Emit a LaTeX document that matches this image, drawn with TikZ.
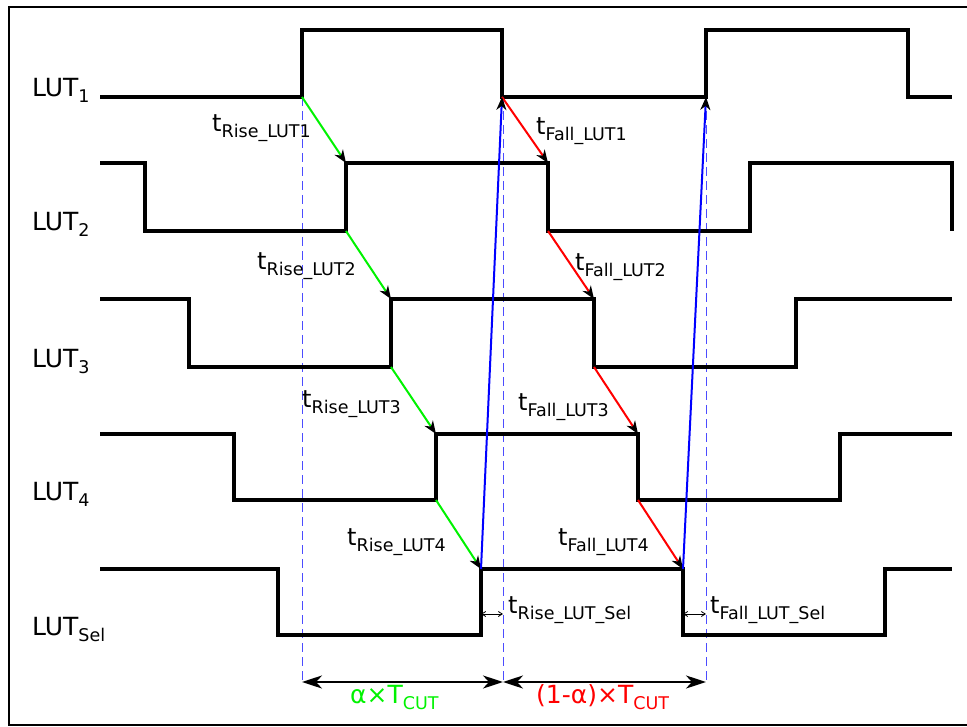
\documentclass[tikz,border=0pt]{standalone}
\usepackage{fontspec}
\setmainfont{DejaVu Sans}
\usetikzlibrary{arrows.meta}
\definecolor{dashblue}{rgb}{0.3,0.3,1}
\definecolor{mygreen}{rgb}{0,0.95,0}
\newcommand{\mysub}[1]{\raisebox{-6pt}{\fontsize{17.5}{18}\selectfont #1}}
\begin{document}
\begin{tikzpicture}[x=1pt,y=-1pt,
  wave/.style={line width=4pt, line join=miter},
  delay/.style={line width=2pt, -{Stealth[length=13pt,width=10pt,inset=4pt,color=black]}},
  guide/.style={line width=1pt, dash pattern=on 9pt off 5pt, color=dashblue},
  dim/.style={line width=2.5pt, {Stealth[length=20pt,width=13pt,inset=6pt]}-{Stealth[length=20pt,width=13pt,inset=6pt]}},
  smalldim/.style={line width=0.8pt, {Straight Barb[length=4pt,width=5pt]}-{Straight Barb[length=4pt,width=5pt]}},
  lutlbl/.style={anchor=base west, inner sep=0pt, font=\fontsize{25}{28}\selectfont},
  tlbl/.style={anchor=base west, inner sep=0pt, font=\fontsize{24}{28}\selectfont}]
\useasboundingbox (0,0) rectangle (967,727);
\draw[line width=2pt] (9,7) rectangle (972,725);

% transition coordinates
\coordinate (a1L) at (302,97);  \coordinate (a1H) at (302,30);
\coordinate (b1H) at (502,30);  \coordinate (b1L) at (502,97);
\coordinate (c1L) at (706,97);  \coordinate (c1H) at (706,30);
\coordinate (d1H) at (908,30);  \coordinate (d1L) at (908,97);

\coordinate (a2L) at (346,231); \coordinate (a2H) at (346,163);
\coordinate (b2H) at (548,163); \coordinate (b2L) at (548,231);

\coordinate (a3L) at (391,367); \coordinate (a3H) at (391,299);
\coordinate (b3H) at (594,299); \coordinate (b3L) at (594,367);

\coordinate (a4L) at (436,500); \coordinate (a4H) at (436,434);
\coordinate (b4H) at (638,434); \coordinate (b4L) at (638,500);

\coordinate (a5L) at (481,635); \coordinate (a5H) at (481,569);
\coordinate (b5H) at (683,569); \coordinate (b5L) at (683,635);

\coordinate (g1) at (302,682); \coordinate (g2) at (503,682); \coordinate (g3) at (706,682);
\coordinate (g2t) at (503,97);

% guides
\draw[guide] (a1L) -- (g1);
\draw[guide] (g2t) -- (g2);
\draw[guide] (c1L) -- (g3);

% waveforms
\draw[wave] (100,97) -- (a1L) -- (a1H) -- (b1H) -- (b1L) -- (c1L) -- (c1H) -- (d1H) -- (d1L) -- (952,97);
\draw[wave] (100,163) -- (145,163) -- (145,231) -- (a2L) -- (a2H) -- (b2H) -- (b2L) -- (750,231) -- (750,163) -- (952,163) -- (952,231);
\draw[wave] (100,299) -- (189,299) -- (189,367) -- (a3L) -- (a3H) -- (b3H) -- (b3L) -- (796,367) -- (796,299) -- (952,299);
\draw[wave] (100,434) -- (234,434) -- (234,500) -- (a4L) -- (a4H) -- (b4H) -- (b4L) -- (840,500) -- (840,434) -- (952,434);
\draw[wave] (100,569) -- (278,569) -- (278,635) -- (a5L) -- (a5H) -- (b5H) -- (b5L) -- (885,635) -- (885,569) -- (952,569);

% delay arrows
\draw[delay, mygreen] (a1L) -- (a2H);
\draw[delay, mygreen] (a2L) -- (a3H);
\draw[delay, mygreen] (a3L) -- (a4H);
\draw[delay, mygreen] (a4L) -- (a5H);
\draw[delay, red] (b1L) -- (b2H);
\draw[delay, red] (b2L) -- (b3H);
\draw[delay, red] (b3L) -- (b4H);
\draw[delay, red] (b4L) -- (b5H);
\draw[delay, blue] (a5H) -- (b1L);
\draw[delay, blue] (b5H) -- (c1L);

% small sel delays
\coordinate (s1a) at (481,614); \coordinate (s1b) at (503,614);
\coordinate (s2a) at (683,614); \coordinate (s2b) at (706,614);
\draw[smalldim] (s1a) -- (s1b);
\draw[smalldim] (s2a) -- (s2b);

% period arrows
\draw[dim] (g1) -- (g2);
\draw[dim] (g2) -- (g3);

% labels
\node[lutlbl] (n1) at (32,97)  {LUT\mysub{1}};
\node[lutlbl] (n2) at (32,231) {LUT\mysub{2}};
\node[lutlbl] (n3) at (32,367) {LUT\mysub{3}};
\node[lutlbl] (n4) at (32,500) {LUT\mysub{4}};
\node[lutlbl] (n5) at (32,635) {LUT\mysub{Sel}};

\node[tlbl] (tr1) at (212,132) {t\mysub{Rise\_LUT1}};
\node[tlbl] (tr2) at (257,270) {t\mysub{Rise\_LUT2}};
\node[tlbl] (tr3) at (302,407) {t\mysub{Rise\_LUT3}};
\node[tlbl] (tr4) at (347,545) {t\mysub{Rise\_LUT4}};
\node[tlbl] (tf1) at (536,135) {t\mysub{Fall\_LUT1}};
\node[tlbl] (tf2) at (575,271) {t\mysub{Fall\_LUT2}};
\node[tlbl] (tf3) at (518,410) {t\mysub{Fall\_LUT3}};
\node[tlbl] (tf4) at (558,545) {t\mysub{Fall\_LUT4}};
\node[tlbl] (ts1) at (508,613) {t\mysub{Rise\_LUT\_Sel}};
\node[tlbl] (ts2) at (710,613) {t\mysub{Fall\_LUT\_Sel}};

\node[lutlbl, text=mygreen] (p1) at (350,703) {α×T\mysub{CUT}};
\node[lutlbl, text=red] (p2) at (536,703) {(1-α)×T\mysub{CUT}};
\end{tikzpicture}
\end{document}
